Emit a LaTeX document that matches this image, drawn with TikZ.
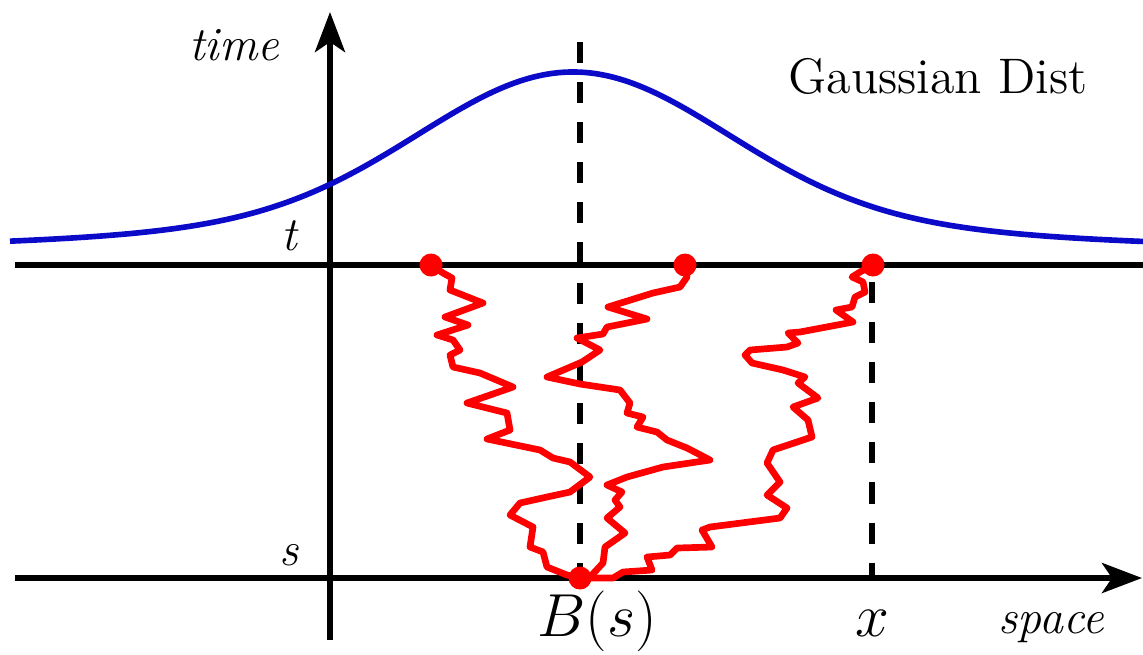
\documentclass[tikz,border=0pt]{standalone}
\usepackage{fontspec}
\usetikzlibrary{arrows.meta}
\definecolor{walkred}{RGB}{255,0,0}
\definecolor{densblue}{RGB}{10,10,200}

\begin{document}
\begin{tikzpicture}[
    x=0.01cm, y=-0.01cm,
    axis/.style={line width=1.6pt,-{Stealth[length=0.4cm,width=0.3cm,inset=0.1cm]}},
    level/.style={line width=1.6pt},
    guide/.style={line width=1.6pt,dash pattern=on 6pt off 5.4pt},
    walk/.style={line width=1.9pt,draw=walkred,line join=round},
    dot/.style={circle,fill=walkred,inner sep=0pt,minimum size=0.23cm},
    curve/.style={line width=1.6pt,draw=densblue},
    lbl/.style={font=\fontsize{13.6}{16}\selectfont\itshape,inner sep=0pt,anchor=base},
    mlbl/.style={font=\fontsize{17}{20}\selectfont,inner sep=0pt,anchor=base}
  ]
    \useasboundingbox (0,0) rectangle (1143,654);
    % axes and levels
    \coordinate (vbot) at (330,640);
    \coordinate (vtop) at (330,12);
    \coordinate (hleft) at (15,578);
    \coordinate (hright) at (1142,578);
    \coordinate (tleft) at (15,265);
    \coordinate (tright) at (1143,265);
    \coordinate (gtop) at (580,42);
    \coordinate (xtop) at (872,282);
    \coordinate (xbot) at (872,578);
    \draw[level] (tleft) -- (tright);
    \draw[axis] (hleft) -- (hright);
    \draw[axis] (vbot) -- (vtop);
    \draw[guide] (gtop) -- (580,578);
    \draw[guide] (xtop) -- (xbot);
    % density at time t
    \draw[curve] plot[domain=10:1143,samples=120,smooth]
      (\x,{248-141*exp(-((\x-573)/100)^2/4.5)-35*exp(-((\x-573)/100)^2/19.22)});
    % sample paths
    \node[dot] (bs) at (580,578) {};
    \node[dot] (p1) at (431,265) {};
    \node[dot] (p2) at (685,265) {};
    \node[dot] (p3) at (873,265) {};
    \draw[walk] (p1.center) -- (443,273) -- (452,278) -- (450,290) -- (483,303)
      -- (445,317) -- (468,325) -- (437,335) -- (453,340) -- (460,350) -- (450,355)
      -- (453,367) -- (480,373) -- (513,387) -- (467,403) -- (507,413) -- (510,430)
      -- (487,439) -- (540,450) -- (553,458) -- (570,462) -- (590,477) -- (570,492)
      -- (547,497) -- (520,503) -- (510,515) -- (533,527) -- (530,547) -- (543,552)
      -- (547,567) -- (567,575) -- (bs.center);
    \draw[walk] (p2.center) -- (687,277) -- (680,287) -- (653,293) -- (608,307)
      -- (647,319) -- (607,327) -- (603,334) -- (577,338) -- (600,350) -- (582,362)
      -- (547,377) -- (580,384) -- (620,390) -- (630,403) -- (627,413) -- (643,417)
      -- (637,427) -- (657,432) -- (667,440) -- (687,448) -- (710,460) -- (663,467)
      -- (627,477) -- (607,485) -- (622,492) -- (615,500) -- (620,507) -- (607,518)
      -- (625,533) -- (605,547) -- (603,563) -- (590,577) -- (bs.center);
    \draw[walk] (p3.center) -- (860,272) -- (852,277) -- (863,282) -- (865,292)
      -- (855,297) -- (852,307) -- (836,310) -- (853,322) -- (800,332) -- (788,333)
      -- (798,343) -- (787,347) -- (750,350) -- (745,355) -- (752,363) -- (783,370)
      -- (805,377) -- (798,383) -- (818,398) -- (793,407) -- (808,420) -- (812,437)
      -- (773,450) -- (767,463) -- (780,482) -- (767,495) -- (787,508) -- (780,518)
      -- (710,527) -- (702,530) -- (712,547) -- (677,548) -- (670,555) -- (647,557)
      -- (652,570) -- (623,572) -- (613,578) -- (bs.center);
    % labels
    \node[lbl] (time) at (234,60) {time};
    \node[lbl] (tlab) at (289,250) {t};
    \node[lbl] (slab) at (289,565) {s};
    \node[lbl] (space) at (1051,633) {space};
    \node[mlbl] (gauss) at (938,93) {\fontsize{14.2}{17}\selectfont Gaussian Dist};
    \node[mlbl] (blab) at (597,636) {$B(s)$};
    \node[mlbl] (xlab) at (872,636) {$x$};
\end{tikzpicture}
\end{document}
